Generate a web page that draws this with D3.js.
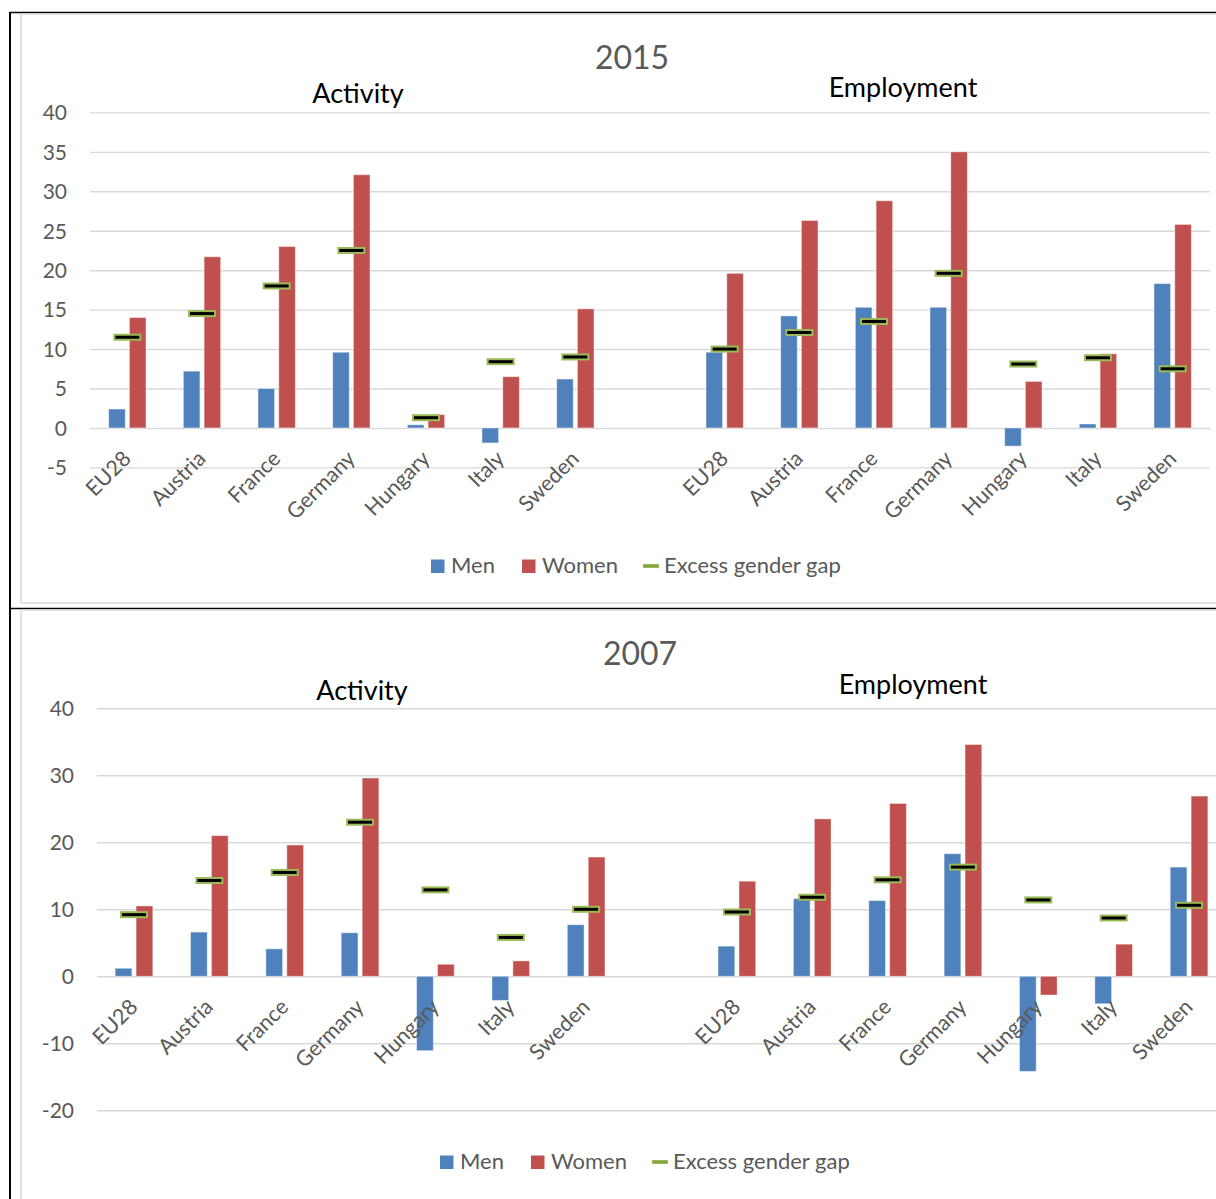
<!DOCTYPE html>
<html>
<head>
<meta charset="utf-8">
<script src="https://cdn.jsdelivr.net/npm/d3@7"></script>
<style>
  html, body { margin: 0; padding: 0; background: #fff; }
  svg { display: block; font-family: Lato, "Noto Sans", sans-serif; }
</style>
</head>
<body>
<svg id="chart" width="1216" height="1199"></svg>
<script>
// ---------- DATA ----------
const countries = ["EU28", "Austria", "France", "Germany", "Hungary", "Italy", "Sweden"];
const panels = ["Activity", "Employment"];
const seriesNames = ["Men", "Women", "Excess gender gap"];

// 2015
const men2015Activity     = [2.4, 7.2, 5.0, 9.6, 0.4, -1.9, 6.2];
const women2015Activity   = [14.0, 21.7, 23.0, 32.1, 1.7, 6.5, 15.1];
const gap2015Activity     = [11.5, 14.5, 18.0, 22.5, 1.3, 8.4, 9.0];
const men2015Employment   = [9.6, 14.2, 15.3, 15.3, -2.3, 0.5, 18.3];
const women2015Employment = [19.6, 26.3, 28.8, 35.0, 5.9, 9.4, 25.8];
const gap2015Employment   = [10.0, 12.1, 13.5, 19.6, 8.1, 8.9, 7.5];
const ticks2015 = [-5, 0, 5, 10, 15, 20, 25, 30, 35, 40];

// 2007
const men2007Activity     = [1.2, 6.6, 4.1, 6.5, -11.1, -3.6, 7.7];
const women2007Activity   = [10.5, 21.0, 19.6, 29.6, 1.8, 2.3, 17.8];
const gap2007Activity     = [9.2, 14.3, 15.5, 23.0, 12.9, 5.8, 10.0];
const men2007Employment   = [4.5, 11.6, 11.3, 18.3, -14.2, -4.1, 16.3];
const women2007Employment = [14.2, 23.5, 25.8, 34.6, -2.8, 4.8, 26.9];
const gap2007Employment   = [9.6, 11.8, 14.4, 16.3, 11.4, 8.7, 10.6];
const ticks2007 = [-20, -10, 0, 10, 20, 30, 40];

// ---------- STYLE ----------
const C_MEN = "#4F81BD", C_WOMEN = "#C0504D", C_GAP = "#9BBB59";
const C_TEXT = "#595959", C_GRID = "#D9D9D9";

const svg = d3.select("#chart");

// outer frame
svg.append("line").attr("x1", 10).attr("x2", 1216).attr("y1", 12.5).attr("y2", 12.5).attr("stroke", "#000").attr("stroke-width", 1.6);
svg.append("line").attr("x1", 10).attr("x2", 1216).attr("y1", 608.5).attr("y2", 608.5).attr("stroke", "#000").attr("stroke-width", 1.6);
svg.append("line").attr("x1", 10).attr("x2", 10).attr("y1", 12).attr("y2", 1199).attr("stroke", "#000").attr("stroke-width", 2);

function drawChart(cfg) {
  const g = svg.append("g");
  // chart area border
  g.append("rect").attr("x", 21).attr("y", cfg.boxTop).attr("width", 1210).attr("height", cfg.boxH)
    .attr("fill", "none").attr("stroke", C_GRID).attr("stroke-width", 1.5);

  const y = d3.scaleLinear().domain(cfg.domain).range(cfg.yRange);
  const slots = d3.range(15);
  const x = d3.scaleBand().domain(slots).range(cfg.xRange).padding(0);
  const bw = x.bandwidth();
  const sub = d3.scaleBand().domain(["men", "women"]).range([-0.25 * bw, 0.25 * bw]).paddingInner(0.2);

  // gridlines + tick labels via axis
  const axis = d3.axisLeft(y).tickValues(cfg.ticks).tickSize(-(cfg.gridX2 - cfg.gridX1)).tickPadding(0)
    .tickFormat(d => String(d));
  const ag = g.append("g").attr("transform", `translate(${cfg.gridX1},0)`).call(axis);
  ag.select(".domain").remove();
  ag.selectAll(".tick line").attr("stroke", C_GRID).attr("stroke-width", 1.4);
  ag.selectAll(".tick text").attr("x", cfg.labelX - cfg.gridX1).attr("fill", C_TEXT)
    .attr("font-size", 21).attr("font-family", "Lato, 'Noto Sans', sans-serif").attr("dy", "0.35em");

  // rows: slot index -> data
  const rows = [];
  countries.forEach((c, i) => {
    rows.push({ slot: i, name: c, men: cfg.menA[i], women: cfg.womenA[i], gap: cfg.gapA[i] });
    rows.push({ slot: i + 8, name: c, men: cfg.menE[i], women: cfg.womenE[i], gap: cfg.gapE[i] });
  });
  const cxOf = s => x(s) + bw / 2;

  const bars = g.append("g");
  rows.forEach(r => {
    [["men", r.men, C_MEN], ["women", r.women, C_WOMEN]].forEach(([k, v, col]) => {
      bars.append("rect")
        .attr("x", cxOf(r.slot) + sub(k))
        .attr("width", sub.bandwidth())
        .attr("y", Math.min(y(v), y(0)))
        .attr("height", Math.abs(y(v) - y(0)))
        .attr("fill", col)
        .attr("stroke", "rgba(255,255,255,0.45)").attr("stroke-width", 1);
    });
  });

  // category labels
  rows.forEach(r => {
    g.append("text")
      .attr("transform", `translate(${cxOf(r.slot) + 5},${y(0) + 32}) rotate(-45)`)
      .attr("text-anchor", "end")
      .attr("fill", C_TEXT).attr("font-size", 21.5)
      .text(r.name);
  });

  // gap markers
  rows.forEach(r => {
    g.append("rect")
      .attr("x", cxOf(r.slot) - 13).attr("width", 26)
      .attr("y", y(r.gap) - 2.5).attr("height", 5)
      .attr("fill", "#000").attr("stroke", C_GAP).attr("stroke-width", 2);
  });

  // titles
  g.append("text").attr("x", cfg.yearX).attr("y", cfg.yearY).attr("text-anchor", "middle")
    .attr("fill", C_TEXT).attr("font-size", 32).text(cfg.year);
  g.append("text").attr("x", cfg.actX).attr("y", cfg.actY).attr("text-anchor", "middle")
    .attr("fill", "#000").attr("font-size", 27).text(panels[0]);
  g.append("text").attr("x", cfg.empX).attr("y", cfg.empY).attr("text-anchor", "middle")
    .attr("fill", "#000").attr("font-size", 27).text(panels[1]);

  // legend
  const L = g.append("g").attr("transform", `translate(${cfg.legX},${cfg.legY})`);
  L.append("rect").attr("x", 0).attr("y", -13.5).attr("width", 13.5).attr("height", 13.5).attr("fill", C_MEN);
  L.append("text").attr("x", 20).attr("y", 0).attr("fill", C_TEXT).attr("font-size", 22).text(seriesNames[0]);
  L.append("rect").attr("x", 91).attr("y", -13.5).attr("width", 13.5).attr("height", 13.5).attr("fill", C_WOMEN);
  L.append("text").attr("x", 111).attr("y", 0).attr("fill", C_TEXT).attr("font-size", 22).text(seriesNames[1]);
  L.append("rect").attr("x", 212).attr("y", -9).attr("width", 16).attr("height", 4).attr("fill", C_GAP);
  L.append("line").attr("x1", 213).attr("x2", 227).attr("y1", -7).attr("y2", -7).attr("stroke", "#6b8a35").attr("stroke-width", 1);
  L.append("text").attr("x", 233).attr("y", 0).attr("fill", C_TEXT).attr("font-size", 22).text(seriesNames[2]);
}

drawChart({
  year: "2015", boxTop: 14, boxH: 589,
  domain: [-5, 40], yRange: [467.4, 112.4], ticks: ticks2015,
  xRange: [90, 1210], gridX1: 90, gridX2: 1210, labelX: 67,
  menA: men2015Activity, womenA: women2015Activity, gapA: gap2015Activity,
  menE: men2015Employment, womenE: women2015Employment, gapE: gap2015Employment,
  yearX: 632, yearY: 69, actX: 358, actY: 103, empX: 903, empY: 97,
  legX: 431, legY: 573
});

drawChart({
  year: "2007", boxTop: 610, boxH: 640,
  domain: [-20, 40], yRange: [1110.3, 708.3], ticks: ticks2007,
  xRange: [96.3, 1226.7], gridX1: 97, gridX2: 1216, labelX: 74,
  menA: men2007Activity, womenA: women2007Activity, gapA: gap2007Activity,
  menE: men2007Employment, womenE: women2007Employment, gapE: gap2007Employment,
  yearX: 640, yearY: 665, actX: 362, actY: 700, empX: 913, empY: 694,
  legX: 440, legY: 1169
});
</script>
</body>
</html>
